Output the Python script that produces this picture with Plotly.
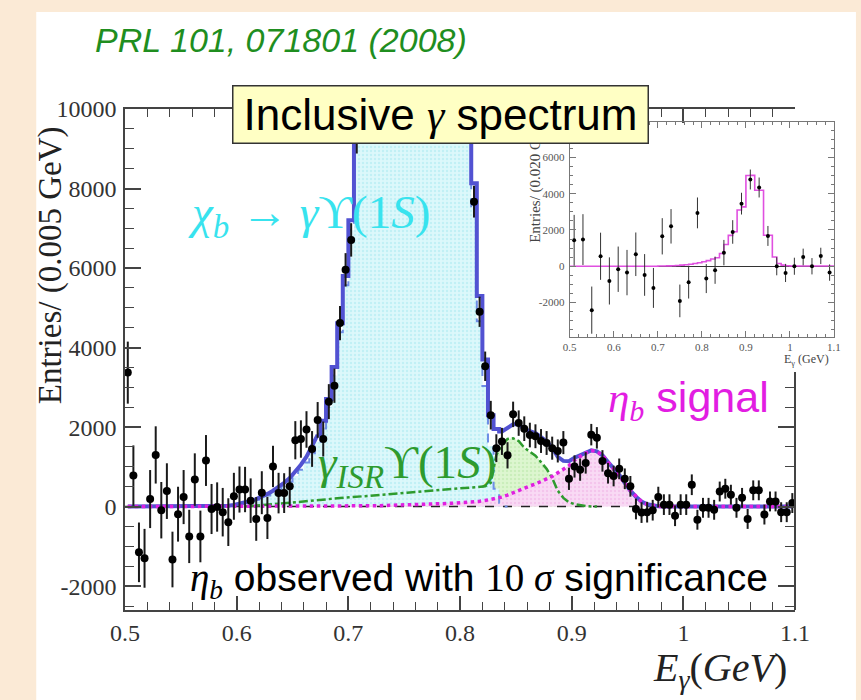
import numpy as np
import plotly.graph_objects as go

# ---------------- data (main spectrum, 0.005 GeV bins from 0.5 to 1.1) ----------------
E_LO, E_HI, BIN_W = 0.5, 1.1, 0.005

data_counts = [
    3370, 780, -1150, -1300, 190, 1300, -90, 390, -1330, -190,
    240, -750, 680, -750, 1160, -60, -10, -140, -390, 260,
    430, 430, 150, -310, 350, -285, 1010, 340, 340, 510,
    1670, 1700, 1940, 1450, 2180, 1700, 2640, 3040, 4615, 5955,
    6708, 9300, 11800, 14700, 16800, 19700, 21800, 24700, 26300, 28200,
    29100, 29400, 29200, 27800, 27300, 25800, 25200, 23800, 22700, 19800,
    16700, 12700, 7670, 4900, 3530, 2300, 1470, 1640, 1290, 2320,
    2100, 1960, 1800, 1770, 1650, 1600, 1470, 1400, 1610, 700,
    1010, 930, 1100, 1810, 1730, 1150, 840, 770, 950, 700,
    510, -60, -150, -140, -90, 240, 50, 50, -230, 50,
    50, 550, -330, -30, -30, -80, 380, 450, 300, -30,
    220, -310, 410, 410, -200, 130, 130, -140, -140, 90,
]
data_errors = [
    780, 760, 750, 740, 730, 720, 710, 700, 700, 690,
    680, 670, 660, 650, 640, 630, 620, 610, 600, 590,
    580, 570, 560, 550, 540, 530, 520, 510, 500, 490,
    480, 470, 460, 450, 450, 440, 440, 430, 430, 420,
    420, 420, 420, 420, 420, 420, 420, 420, 420, 420,
    420, 420, 420, 420, 420, 420, 420, 420, 420, 420,
    420, 420, 400, 380, 370, 360, 350, 340, 330, 320,
    320, 310, 310, 300, 300, 300, 290, 290, 290, 280,
    280, 280, 270, 270, 270, 270, 260, 260, 260, 260,
    260, 260, 260, 260, 260, 260, 260, 260, 260, 260,
    260, 260, 250, 250, 250, 250, 250, 250, 250, 250,
    250, 250, 250, 250, 250, 250, 250, 250, 250, 250,
]

# fit components (values per bin); each list starts at the given bin index
CHIB_START = 17
chib_fit = [
    0, 20, 40, 70, 100, 130, 170, 220, 280, 350, 425,
    520, 625, 770, 925, 1110, 1345, 1630, 1965, 2505, 3295,
    4385, 5565, 6953, 9241, 12000, 14500, 17000, 19500, 22000, 24500,
    26500, 28000, 29000, 29500, 29000, 28000, 27000, 26000, 25000, 24000,
    22500, 20000, 16500, 12500, 7520, 4665, 3035, 1520, 450, 100, 0,
]
ISR_START = 21
isr_fit = [
    0, 10, 20, 30, 40, 50, 65, 80, 95, 110, 125,
    140, 155, 170, 185, 195, 205, 215, 225, 235, 245,
    255, 265, 278, 290, 302, 314, 326, 338, 350, 362,
    374, 386, 398, 410, 422, 434, 446, 458, 470, 480,
    490, 500, 510, 600, 1300, 1550, 1700, 1720, 1650, 1480,
    1380, 1280, 1120, 950, 720, 400, 220, 110, 60, 30,
    15, 5, 0,
]
ETAB_START = 29
etab_fit = [
    0, 2, 3, 4, 5, 6, 7, 8, 9, 10, 10,
    12, 14, 16, 18, 21, 24, 27, 30, 33, 37,
    41, 45, 50, 55, 60, 66, 72, 78, 85, 92,
    100, 110, 120, 135, 155, 180, 205, 240, 290, 350,
    420, 470, 520, 570, 630, 690, 760, 850, 930, 1030,
    1170, 1260, 1350, 1410, 1390, 1290, 1120, 960, 800, 600,
    400, 250, 130, 60, 25, 10, 0,
]

# ---------------- data (inset, 0.020 GeV bins) ----------------
INSET_BIN_W = 0.02
inset_counts = [1430, 1470, -2420, 550, -810, -165, -350, 660, -480, -1195,
                1650, 2200, -1910, -880, 2940, -680, -220, 750, 1890, 3450,
                4780, 4340, 1670, 0, -370, 0, 510, 0, 570, -350]
inset_errors = [1400, 1400, 1300, 1300, 1300, 1250, 1250, 1200, 1150, 1100,
                1000, 950, 900, 900, 850, 800, 750, 700, 650, 600,
                550, 550, 550, 500, 500, 470, 460, 450, 450, 450]
INSET_FIT_W = 0.01
inset_fit = [0, 0, 0, 0, 0, 0, 0, 0, 0, 0,
             0, 0, 0, 0, 0, 0, 0, 0, 0, 0,
             10, 15, 20, 30, 40, 60, 80, 110, 150, 190,
             250, 310, 400, 470, 700, 1200, 1700, 1900, 3100, 3270,
             5000, 5010, 4190, 4190, 1710, 1710, 510, 150, 60, 30,
             10, 10, 10, 10, 10, 10, 10, 10, 10, 10]

main_xticks = [0.5, 0.6, 0.7, 0.8, 0.9, 1.0, 1.1]
main_xtick_text = ["0.5", "0.6", "0.7", "0.8", "0.9", "1", "1.1"]
main_yticks = [-2000, 0, 2000, 4000, 6000, 8000, 10000]
main_ytick_text = ["-2000", "0", "2000", "4000", "6000", "8000", "10000"]
inset_yticks = [-2000, 0, 2000, 4000, 6000]
inset_ytick_text = ["-2000", "0", "2000", "4000", "6000"]

# ---------------- derived arrays ----------------
n_bins = len(data_counts)
centers = E_LO + BIN_W * (np.arange(n_bins) + 0.5)


def place(vals, start):
    arr = np.zeros(n_bins)
    arr[start:start + len(vals)] = vals
    return arr


chib = place(chib_fit, CHIB_START)
isr = place(isr_fit, ISR_START)
etab = place(etab_fit, ETAB_START)
total = chib + isr + etab

inset_centers = E_LO + INSET_BIN_W * (np.arange(len(inset_counts)) + 0.5)
inset_fit_x = list(E_LO + INSET_FIT_W * np.arange(len(inset_fit))) + [E_HI]
inset_fit_y = list(inset_fit) + [inset_fit[-1]]

# ---------------- geometry ----------------
W, H = 861, 700
ML, MR, MT, MB = 125, 25, 109, 90
PW, PH = W - ML - MR, H - MT - MB


def px(x):
    return (x - ML) / PW


def py(y):
    return (H - MB - y) / PH


Y_MIN, Y_MAX = -2600, 10000
MAIN_RIGHT = px(797)
RIGHT_AXIS_TOP = py(372)

SERIF = "Liberation Serif"
SANS = "Liberation Sans"

fig = go.Figure()

# fills
s, e = ISR_START, ISR_START + len(isr_fit)
fig.add_trace(go.Scatter(x=centers[s:e], y=isr[s:e], mode="lines", line=dict(width=0),
                         fill="tozeroy", fillcolor="#D9F5CC",
                         fillpattern=dict(shape=".", bgcolor="#DDF6D0", fgcolor="#B5E6A5", size=4, solidity=0.3),
                         hoverinfo="skip"))
s, e = CHIB_START, CHIB_START + len(chib_fit)
fig.add_trace(go.Scatter(x=centers[s:e], y=chib[s:e], mode="lines", line=dict(width=0, shape="hvh"),
                         fill="tozeroy", fillcolor="#D8F7FA",
                         fillpattern=dict(shape=".", bgcolor="#DCF8FB", fgcolor="#A6E7EE", size=4, solidity=0.3),
                         hoverinfo="skip"))
s, e = ETAB_START, ETAB_START + len(etab_fit)
fig.add_trace(go.Scatter(x=centers[s:e], y=etab[s:e], mode="lines", line=dict(width=0),
                         fill="tozeroy", fillcolor="#F8D6F2",
                         fillpattern=dict(shape=".", bgcolor="#F9DAF4", fgcolor="#EDB0E4", size=4, solidity=0.3),
                         hoverinfo="skip"))

# baseline
fig.add_trace(go.Scatter(x=[E_LO, E_HI], y=[0, 0], mode="lines",
                         line=dict(color="#222222", width=1.5, dash="dash"), hoverinfo="skip"))

# component edges
s, e = CHIB_START, CHIB_START + len(chib_fit)
fig.add_trace(go.Scatter(x=centers[s:e], y=chib[s:e], mode="lines",
                         line=dict(color="#6E8EE6", width=2, dash="dash", shape="hvh"), hoverinfo="skip"))
s, e = ISR_START, ISR_START + len(isr_fit)
fig.add_trace(go.Scatter(x=centers[s:e], y=isr[s:e], mode="lines",
                         line=dict(color="#2E9B2E", width=2.5, dash="dashdot"), hoverinfo="skip"))

# total fit
TOT_COLOR = "#5252D2"
fig.add_trace(go.Scatter(x=centers[0:35], y=total[0:35], mode="lines",
                         line=dict(color=TOT_COLOR, width=4), hoverinfo="skip"))
fig.add_trace(go.Scatter(x=centers[34:68], y=total[34:68], mode="lines",
                         line=dict(color=TOT_COLOR, width=4, shape="hvh"), hoverinfo="skip"))
fig.add_trace(go.Scatter(x=centers[67:], y=total[67:], mode="lines",
                         line=dict(color=TOT_COLOR, width=4), hoverinfo="skip"))

# eta_b signal line (whole range)
fig.add_trace(go.Scatter(x=centers, y=etab, mode="lines",
                         line=dict(color="#E020E0", width=3.5, dash="dot"), hoverinfo="skip"))

# data
fig.add_trace(go.Scatter(x=centers, y=data_counts, mode="markers",
                         marker=dict(color="black", size=8),
                         error_y=dict(type="data", array=data_errors, color="#1a1a1a", thickness=2, width=0),
                         hoverinfo="skip"))

# right-hand axis helper (bottom part only)
fig.add_trace(go.Scatter(x=[None], y=[None], xaxis="x", yaxis="y3", hoverinfo="skip"))

# inset
fig.add_trace(go.Scatter(x=inset_fit_x, y=inset_fit_y, mode="lines", xaxis="x2", yaxis="y2",
                         line=dict(color="#E050E0", width=1.6, shape="hv"), hoverinfo="skip"))
fig.add_trace(go.Scatter(x=inset_centers, y=inset_counts, mode="markers", xaxis="x2", yaxis="y2",
                         marker=dict(color="black", size=4),
                         error_y=dict(type="data", array=inset_errors, color="#333333", thickness=1, width=0),
                         hoverinfo="skip"))

AX = "#444444"
axis_font = dict(family=SERIF, size=24, color="#333333")

fig.update_layout(
    width=W, height=H,
    margin=dict(l=ML, r=MR, t=MT, b=MB),
    paper_bgcolor="#FBEAD6",
    plot_bgcolor="rgba(0,0,0,0)",
    showlegend=False,
    xaxis=dict(domain=[0, MAIN_RIGHT], range=[E_LO, E_HI], anchor="y",
               tickmode="array", tickvals=main_xticks, ticktext=main_xtick_text,
               ticks="inside", ticklen=14, tickwidth=1.5, tickcolor=AX,
               minor=dict(ticks="inside", tickmode="linear", tick0=0.5, dtick=0.02, ticklen=8,
                          tickcolor=AX, tickwidth=1.2),
               showline=True, linecolor=AX, linewidth=1.5, mirror="ticks",
               showgrid=False, zeroline=False, tickfont=axis_font, ticklabelstandoff=0),
    yaxis=dict(domain=[0, 1], range=[Y_MIN, Y_MAX], anchor="x",
               tickmode="array", tickvals=main_yticks, ticktext=main_ytick_text,
               ticks="inside", ticklen=16, tickwidth=1.5, tickcolor=AX,
               minor=dict(ticks="inside", tickmode="linear", tick0=0, dtick=500, ticklen=9,
                          tickcolor=AX, tickwidth=1.2),
               showline=True, linecolor=AX, linewidth=1.5, mirror=False,
               showgrid=False, zeroline=False, tickfont=axis_font, ticklabelstandoff=2),
    yaxis3=dict(domain=[0, RIGHT_AXIS_TOP], anchor="free", position=MAIN_RIGHT, side="right",
                range=[Y_MIN, Y_MIN + RIGHT_AXIS_TOP * (Y_MAX - Y_MIN)],
                tickmode="linear", tick0=0, dtick=2000,
                ticks="inside", ticklen=16, tickwidth=1.5, tickcolor=AX,
                minor=dict(ticks="inside", tickmode="linear", tick0=0, dtick=500, ticklen=9,
                           tickcolor=AX, tickwidth=1.2),
                showticklabels=False, showline=True, linecolor=AX, linewidth=1.5,
                showgrid=False, zeroline=False),
    xaxis2=dict(domain=[px(571), 1.0], range=[E_LO, E_HI], anchor="y2",
                tickmode="array", tickvals=main_xticks, ticktext=main_xtick_text,
                ticks="inside", ticklen=6, tickcolor="#777777", tickwidth=1,
                minor=dict(ticks="inside", tickmode="linear", tick0=0.5, dtick=0.02, ticklen=3,
                           tickcolor="#777777"),
                showline=True, linecolor="#777777", linewidth=1, mirror="ticks",
                showgrid=False, zeroline=False,
                tickfont=dict(family=SERIF, size=11, color="#555555")),
    yaxis2=dict(domain=[py(337), py(122)], range=[-3900, 7950], anchor="x2",
                tickmode="array", tickvals=inset_yticks, ticktext=inset_ytick_text,
                ticks="inside", ticklen=6, tickcolor="#777777", tickwidth=1,
                minor=dict(ticks="inside", tickmode="linear", tick0=0, dtick=500, ticklen=3,
                           tickcolor="#777777"),
                showline=True, linecolor="#777777", linewidth=1, mirror="ticks",
                showgrid=False, zeroline=True, zerolinecolor="#333333", zerolinewidth=1.2,
                tickfont=dict(family=SERIF, size=11, color="#555555"), ticklabelstandoff=2),
)

# white card behind everything
fig.add_shape(type="rect", xref="paper", yref="paper",
              x0=px(36), x1=px(858), y0=py(700), y1=py(12),
              fillcolor="white", line=dict(width=0), layer="below")

ser = "font-family:'Liberation Serif'"
ann = [
    dict(text="<i>PRL 101, 071801 (2008)</i>", x=px(93), y=py(40), xanchor="left", yanchor="middle",
         font=dict(family=SANS, size=34, color="#1F8E1F")),
    dict(text="<i>χ<sub>b</sub></i> → <i>γ</i>ϒ(1<i>S</i>)", x=px(310), y=py(215),
         xanchor="center", yanchor="middle", font=dict(family=SERIF, size=47, color="#38E3EE")),
    dict(text="<i>γ<sub>ISR</sub></i>ϒ(1<i>S</i>)", x=px(408), y=py(465),
         xanchor="center", yanchor="middle", font=dict(family=SERIF, size=47, color="#2E9B2E")),
    dict(text=f"<span style=\"{ser}\"><i>η<sub>b</sub></i></span> signal", x=px(690), y=py(400),
         xanchor="center", yanchor="middle", font=dict(family=SANS, size=43, color="#E21DE2")),
    dict(text=(f"<span style=\"{ser}\"><i>η<sub>b</sub></i></span> observed with "
               f"<span style=\"{ser}\">10 <i>σ</i></span> significance"),
         x=px(480), y=py(580), xanchor="center", yanchor="middle",
         font=dict(family=SANS, size=39, color="black")),
    dict(text="<i>E<sub>γ</sub></i>(<i>GeV</i>)", x=px(722), y=py(670), xanchor="center", yanchor="middle",
         font=dict(family=SERIF, size=40, color="#222222")),
    dict(text="Entries/ (0.005 GeV)", x=px(50), y=py(265), xanchor="center", yanchor="middle",
         textangle=-90, font=dict(family=SERIF, size=33, color="#222222")),
    dict(text="Entries/ (0.020 GeV)", x=px(536), y=py(180), xanchor="center", yanchor="middle",
         textangle=-90, font=dict(family=SERIF, size=15, color="#444444")),
    dict(text="E<sub>γ</sub> (GeV)", x=px(808), y=py(360), xanchor="center", yanchor="middle",
         font=dict(family=SERIF, size=12, color="#444444")),
    # title box last so it sits above the inset's y-title
    dict(text=f"Inclusive <span style=\"{ser}\"><i>γ</i></span> spectrum", x=px(441), y=py(115),
         xanchor="center", yanchor="middle", font=dict(family=SANS, size=44, color="black"),
         bgcolor="#FFFFC4", bordercolor="#333333", borderwidth=1.5, borderpad=0, width=414, height=56),
]
for a in ann:
    a.setdefault("xref", "paper")
    a.setdefault("yref", "paper")
    a.setdefault("showarrow", False)
    fig.add_annotation(**a)

fig.write_html("out.html")
